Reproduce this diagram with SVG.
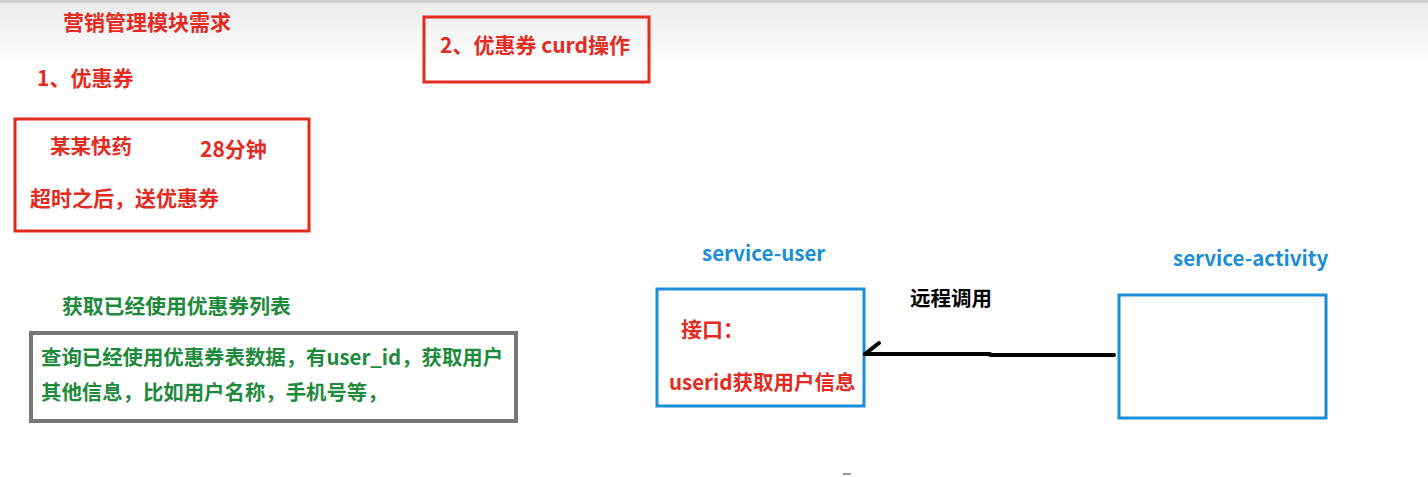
<svg xmlns="http://www.w3.org/2000/svg" width="1428" height="477" viewBox="0 0 1428 477">
<defs>
<linearGradient id="bg" x1="0" y1="0" x2="0" y2="1">
<stop offset="0" stop-color="#ebebeb"/>
<stop offset="1" stop-color="#ffffff"/>
</linearGradient>
</defs>
<style>
text{font-family:"Noto Sans CJK SC","Microsoft YaHei",sans-serif;font-weight:bold;font-size:21px}
.red{fill:#e32b22}
.green{fill:#1d8a3c}
.blue{fill:#1a8ed6;font-size:20.5px}
.black{fill:#000}
.rbox{fill:none;stroke:#e32b22;stroke-width:3}
.gbox{fill:none;stroke:#777;stroke-width:4}
.bbox{fill:none;stroke:#1a8ed6;stroke-width:3}
.conn{stroke:#000;stroke-width:4;fill:none;stroke-linecap:round}
</style>
<rect x="0" y="0" width="1428" height="477" fill="#fff"/>
<rect x="0" y="0" width="1428" height="70" fill="url(#bg)"/>
<rect x="0" y="0" width="1428" height="3" fill="#cfcfcf"/>

<g id="title"><text class="red" x="63" y="30">营销管理模块需求</text></g>
<g id="crud"><rect class="rbox" x="424" y="17" width="225" height="65"/><text class="red" x="440" y="53">2、优惠券 curd操作</text></g>
<g id="coupon"><text class="red" x="37" y="86">1、优惠券</text></g>
<g id="case"><rect class="rbox" x="15" y="119" width="294" height="112"/>
<text class="red" x="50" y="154" style="font-size:20.5px">某某快药</text>
<text class="red" x="200" y="157">28分钟</text>
<text class="red" x="30" y="206">超时之后，送优惠券</text></g>
<g id="usedlist"><text class="green" x="62" y="314" style="font-size:20.8px">获取已经使用优惠券列表</text></g>
<g id="query"><rect class="gbox" x="31" y="333" width="485" height="88"/>
<text class="green" x="41" y="365" style="font-size:20.4px">查询已经使用优惠券表数据，有user_id，获取用户</text>
<text class="green" x="41" y="400" style="font-size:20.4px">其他信息，比如用户名称，手机号等，</text></g>
<g id="service-user"><text class="blue" x="702" y="261">service-user</text>
<rect class="bbox" x="657" y="289" width="207" height="117"/>
<text class="red" x="681" y="337">接口：</text>
<text class="red" x="669" y="390" style="font-size:20.5px">userid获取用户信息</text></g>
<g id="service-activity"><text class="blue" x="1173" y="266">service-activity</text>
<rect class="bbox" x="1119" y="295" width="207" height="123"/></g>
<g id="connectors">
<path class="conn" d="M1114 355 L990 355 M990 354 L865 354"/>
<path class="conn" d="M865 354 L879 343"/>
<text class="black" x="910" y="306" style="font-size:20.5px">远程调用</text>
</g>
<rect x="843" y="473" width="8" height="2" fill="#999"/>
</svg>
